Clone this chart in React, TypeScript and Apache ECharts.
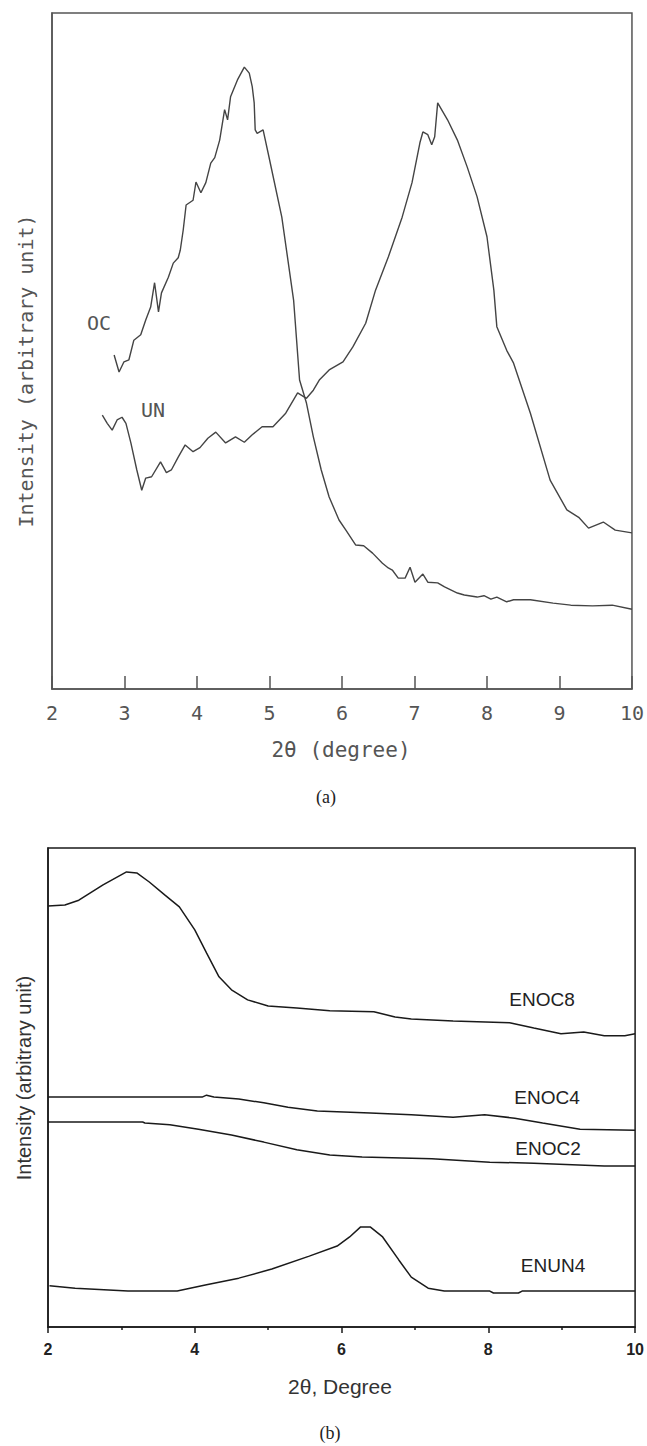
import React, { useEffect, useRef } from "react";
import * as echarts from "echarts";

// ---------- Panel (a) ----------
const A_TICKS = [2, 3, 4, 5, 6, 7, 8, 9, 10];
const ocX = [2.857, 2.925, 2.993, 3.061, 3.129, 3.224, 3.293, 3.361, 3.415, 3.469, 3.51, 3.605, 3.673, 3.741, 3.769, 3.81, 3.85, 3.946, 3.986, 4.054, 4.122, 4.19, 4.245, 4.313, 4.381, 4.422, 4.463, 4.558, 4.653, 4.721, 4.762, 4.789, 4.803, 4.83, 4.912, 4.993, 5.17, 5.333, 5.415, 5.51, 5.605, 5.714, 5.823, 5.959, 6.054, 6.19, 6.299, 6.422, 6.558, 6.639, 6.694, 6.776, 6.871, 6.939, 7.007, 7.116, 7.184, 7.32, 7.415, 7.592, 7.687, 7.864, 7.959, 8.054, 8.136, 8.272, 8.367, 8.599, 8.912, 9.156, 9.456, 9.728, 10.0];
const ocY = [49.4, 46.9, 48.4, 48.7, 51.6, 52.4, 54.6, 56.5, 60.1, 55.8, 58.6, 60.9, 63.0, 63.8, 64.9, 67.9, 71.6, 72.3, 75.0, 73.4, 74.9, 77.8, 78.6, 81.2, 85.7, 84.2, 87.6, 90.1, 92.0, 91.1, 89.1, 86.7, 82.7, 82.2, 82.7, 78.7, 69.8, 57.5, 45.7, 42.3, 37.3, 32.4, 28.4, 25.0, 23.5, 21.3, 21.2, 20.1, 18.6, 17.9, 17.6, 16.4, 16.4, 18.0, 15.8, 17.0, 15.8, 15.7, 15.1, 14.2, 13.9, 13.6, 13.8, 13.3, 13.6, 12.9, 13.2, 13.2, 12.7, 12.4, 12.3, 12.4, 11.8];
const unX = [2.694, 2.762, 2.83, 2.898, 2.966, 3.02, 3.088, 3.17, 3.238, 3.293, 3.374, 3.497, 3.578, 3.646, 3.741, 3.837, 3.946, 4.041, 4.15, 4.259, 4.395, 4.531, 4.653, 4.762, 4.898, 5.048, 5.224, 5.388, 5.51, 5.605, 5.687, 5.823, 6.014, 6.15, 6.327, 6.463, 6.639, 6.83, 6.966, 7.075, 7.116, 7.184, 7.238, 7.279, 7.32, 7.456, 7.592, 7.728, 7.864, 8.0, 8.095, 8.136, 8.272, 8.367, 8.599, 8.871, 9.102, 9.265, 9.401, 9.605, 9.769, 10.0];
const unY = [40.5, 39.3, 38.3, 39.8, 40.2, 39.3, 36.4, 32.4, 29.4, 31.2, 31.4, 33.6, 32.0, 32.4, 34.3, 36.1, 35.1, 35.7, 37.1, 38.0, 36.4, 37.3, 36.5, 37.6, 38.8, 38.8, 40.8, 43.8, 43.0, 44.2, 45.7, 47.2, 48.4, 50.6, 54.1, 59.0, 63.9, 69.8, 74.9, 80.8, 82.4, 82.0, 80.5, 81.7, 86.7, 84.2, 81.2, 77.2, 72.8, 66.9, 59.0, 53.6, 50.1, 48.2, 40.8, 30.9, 26.5, 25.4, 23.8, 24.7, 23.5, 23.1];

// ---------- Panel (b) ----------
const B_TICKS = [2, 4, 6, 8, 10];
const enoc8X = [2.0, 2.23, 2.42, 2.75, 3.07, 3.21, 3.38, 3.59, 3.79, 4.0, 4.16, 4.33, 4.5, 4.72, 5.0, 5.39, 5.84, 6.44, 6.73, 6.95, 7.52, 8.29, 8.62, 8.99, 9.3, 9.58, 9.86, 10.0];
const enoc8Y = [87.9, 88.1, 89.1, 92.3, 95.0, 94.8, 92.9, 90.2, 87.7, 82.9, 78.1, 73.1, 70.4, 68.3, 67.0, 66.6, 66.0, 65.8, 64.7, 64.3, 63.9, 63.5, 62.4, 61.2, 61.6, 60.8, 60.8, 61.2];
const enoc4X = [2.0, 4.1, 4.16, 4.26, 4.6, 4.94, 5.27, 5.67, 6.39, 6.95, 7.52, 7.95, 8.36, 8.74, 9.25, 10.0];
const enoc4Y = [48.0, 48.0, 48.4, 48.0, 47.6, 46.8, 45.9, 45.1, 44.7, 44.3, 43.8, 44.3, 43.6, 42.6, 41.3, 41.1];
const enoc2X = [2.0, 3.29, 3.32, 3.66, 4.05, 4.5, 4.94, 5.39, 5.84, 6.28, 7.23, 8.02, 8.62, 9.58, 10.0];
const enoc2Y = [42.8, 42.8, 42.6, 42.2, 41.3, 40.1, 38.6, 37.0, 35.9, 35.5, 35.1, 34.4, 34.2, 33.6, 33.6];
const enun4X = [2.02, 2.37, 3.09, 3.76, 4.16, 4.6, 5.05, 5.56, 5.94, 6.11, 6.26, 6.39, 6.56, 6.78, 6.95, 7.18, 7.4, 8.02, 8.07, 8.41, 8.46, 10.0];
const enun4Y = [8.6, 8.1, 7.5, 7.5, 8.8, 10.2, 12.1, 14.8, 16.9, 18.8, 20.9, 20.9, 18.8, 14.0, 10.4, 8.1, 7.5, 7.5, 7.1, 7.1, 7.5, 7.5];

const zip = (xs: number[], ys: number[]) => xs.map((x, i) => [x, ys[i]]);

const MONO = "'DejaVu Sans Mono', monospace";
const SANS = "'Liberation Sans', Arial, sans-serif";
const SERIF = "'Liberation Serif', 'Times New Roman', serif";

function txt(text: string, x: number, y: number, font: string, fill: string, rotation = 0) {
  return {
    type: "text",
    x,
    y,
    rotation,
    silent: true,
    style: {
      text,
      fill,
      font,
      align: "center",
      verticalAlign: "middle",
      textAlign: "center",
      textVerticalAlign: "middle",
    },
  };
}

export default function App() {
  const ref = useRef<HTMLDivElement>(null);
  useEffect(() => {
    if (!ref.current) return;
    const chart = echarts.init(ref.current, undefined, { renderer: "svg" });
    const lineA = { color: "#444", width: 1.4 };
    const lineB = { color: "#1a1a1a", width: 1.5 };
    const mkSeries = (data: number[][], idx: number, ls: any, name: string) => ({
      type: "line",
      name,
      xAxisIndex: idx,
      yAxisIndex: idx,
      data,
      showSymbol: false,
      symbol: "none",
      silent: true,
      lineStyle: ls,
    });
    chart.setOption({
      animation: false,
      backgroundColor: "#ffffff",
      grid: [
        { left: 52, top: 13, width: 588, height: 676, show: true, borderColor: "#555", borderWidth: 1.5, backgroundColor: "transparent" },
        { left: 48, top: 848, width: 590, height: 479, show: true, borderColor: "#1a1a1a", borderWidth: 1.5, backgroundColor: "transparent" },
      ],
      xAxis: [
        {
          gridIndex: 0,
          type: "value",
          min: A_TICKS[0],
          max: A_TICKS[A_TICKS.length - 1],
          interval: 1,
          axisLine: { show: true, lineStyle: { color: "#555", width: 1.5 } },
          axisTick: { show: true, inside: true, length: 13, lineStyle: { color: "#555", width: 1.5 } },
          axisLabel: { margin: 14, fontFamily: MONO, fontSize: 20, color: "#555" },
          splitLine: { show: false },
        },
        {
          gridIndex: 1,
          type: "value",
          min: B_TICKS[0],
          max: B_TICKS[B_TICKS.length - 1],
          interval: 2,
          axisLine: { show: true, lineStyle: { color: "#1a1a1a", width: 1.5 } },
          axisTick: { show: true, inside: false, length: 6, lineStyle: { color: "#1a1a1a", width: 1.5 } },
          minorTick: { show: true, splitNumber: 2, length: 3, lineStyle: { color: "#1a1a1a", width: 1.5 } },
          axisLabel: { margin: 14, fontFamily: SANS, fontSize: 16, fontWeight: "bold", color: "#222" },
          splitLine: { show: false },
          minorSplitLine: { show: false },
        },
      ],
      yAxis: [
        {
          gridIndex: 0,
          type: "value",
          min: 0,
          max: 100,
          axisLine: { show: true, lineStyle: { color: "#555", width: 1.5 } },
          axisTick: { show: false },
          axisLabel: { show: false },
          splitLine: { show: false },
        },
        {
          gridIndex: 1,
          type: "value",
          min: 0,
          max: 100,
          axisLine: { show: true, lineStyle: { color: "#1a1a1a", width: 1.5 } },
          axisTick: { show: false },
          axisLabel: { show: false },
          splitLine: { show: false },
        },
      ],
      series: [
        mkSeries(zip(ocX, ocY), 0, lineA, "OC"),
        mkSeries(zip(unX, unY), 0, lineA, "UN"),
        mkSeries(zip(enoc8X, enoc8Y), 1, lineB, "ENOC8"),
        mkSeries(zip(enoc4X, enoc4Y), 1, lineB, "ENOC4"),
        mkSeries(zip(enoc2X, enoc2Y), 1, lineB, "ENOC2"),
        mkSeries(zip(enun4X, enun4Y), 1, lineB, "ENUN4"),
      ],
      graphic: [
        txt("Intensity (arbitrary unit)", 26, 371, `20px ${MONO}`, "#555", Math.PI / 2),
        txt("2θ (degree)", 341, 750, `21px ${MONO}`, "#555"),
        txt("OC", 99, 323, `20px ${MONO}`, "#555"),
        txt("UN", 153, 410, `20px ${MONO}`, "#555"),
        txt("(a)", 326, 797, `18px ${SERIF}`, "#222"),
        txt("Intensity (arbitrary unit)", 24, 1078, `20px ${SANS}`, "#333", Math.PI / 2),
        txt("2θ, Degree", 340, 1386, `21px ${SANS}`, "#333"),
        txt("ENOC8", 542, 999, `19px ${SANS}`, "#222"),
        txt("ENOC4", 547, 1097, `19px ${SANS}`, "#222"),
        txt("ENOC2", 548, 1148, `19px ${SANS}`, "#222"),
        txt("ENUN4", 553, 1265, `19px ${SANS}`, "#222"),
        txt("(b)", 330, 1433, `18px ${SERIF}`, "#222"),
      ],
    });
    return () => chart.dispose();
  }, []);
  return (
    <div
      ref={ref}
      style={{ position: "absolute", left: 0, top: 0, width: 647, height: 1446, background: "#fff" }}
    />
  );
}
